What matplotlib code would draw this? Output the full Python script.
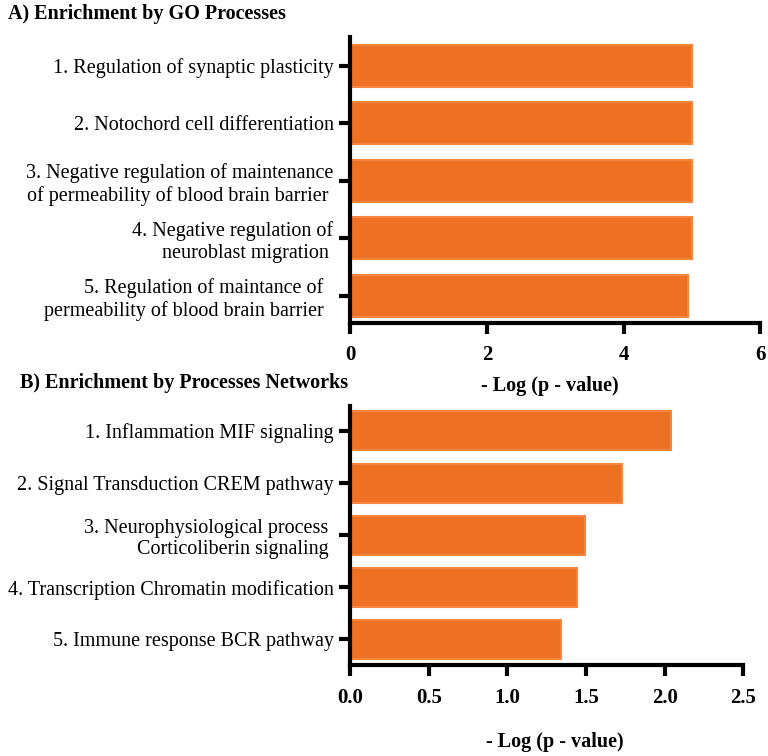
import matplotlib
matplotlib.use('Agg')
import matplotlib.pyplot as plt
import numpy as np

# panel A data
go_terms = ['1. Regulation of synaptic plasticity',
            '2. Notochord cell differentiation',
            '3. Negative regulation of maintenance\nof permeability of blood brain barrier ',
            '4. Negative regulation of\nneuroblast migration ',
            '5. Regulation of maintance of  \npermeability of blood brain barrier  ']
go_values = [5.0, 5.0, 5.0, 5.0, 4.94]
go_ticks = [0, 2, 4, 6]

# panel B data
net_terms = ['1. Inflammation MIF signaling',
             '2. Signal Transduction CREM pathway',
             '3. Neurophysiological process \nCorticoliberin signaling ',
             '4. Transcription Chromatin modification',
             '5. Immune response BCR pathway']
net_values = [2.04, 1.73, 1.49, 1.44, 1.34]
net_ticks = [0.0, 0.5, 1.0, 1.5, 2.0, 2.5]

plt.rcParams['font.family'] = ['Liberation Serif', 'DejaVu Serif']
bar_color = '#ee7123'
edge_color = '#f4863f'

fig = plt.figure(figsize=(7.68, 7.56), dpi=100)
ax1 = fig.add_axes([0.456, 0.573, 0.534, 0.378])
ax2 = fig.add_axes([0.456, 0.120, 0.512, 0.343])


def style(ax, terms, values, ticks, fmt, height, ylim):
    pos = np.arange(len(terms))
    ax.barh(pos, values, height=height, color=bar_color, edgecolor=edge_color, linewidth=1.5)
    ax.set_yticks(pos)
    ax.set_yticklabels(terms, fontsize=14.5, linespacing=1.2)
    ax.set_ylim(*ylim)
    ax.set_xlim(ticks[0], ticks[-1])
    ax.set_xticks(ticks)
    ax.set_xticklabels([fmt.format(t) for t in ticks], fontsize=15, fontweight='bold')
    for s in ['top', 'right']:
        ax.spines[s].set_visible(False)
    for s in ['left', 'bottom']:
        ax.spines[s].set_linewidth(3)
    ax.tick_params(axis='both', length=8, width=3, direction='out')
    ax.tick_params(axis='y', pad=4)
    ax.tick_params(axis='x', pad=8)


style(ax1, go_terms, go_values, go_ticks, '{:d}', 0.73, (4.47, -0.5))
style(ax2, net_terms, net_values, net_ticks, '{:.1f}', 0.75, (4.5, -0.48))

fig.text(0.01, 0.981, 'A) Enrichment by GO Processes', fontsize=14.5, fontweight='bold', va='center')
fig.text(0.026, 0.493, 'B) Enrichment by Processes Networks', fontsize=14.5, fontweight='bold', va='center')
fig.text(0.716, 0.490, '- Log (p - value)', fontsize=14.5, fontweight='bold', ha='center', va='center')
fig.text(0.723, 0.019, '- Log (p - value)', fontsize=14.5, fontweight='bold', ha='center', va='center')

fig.savefig('out.png', dpi=100)
